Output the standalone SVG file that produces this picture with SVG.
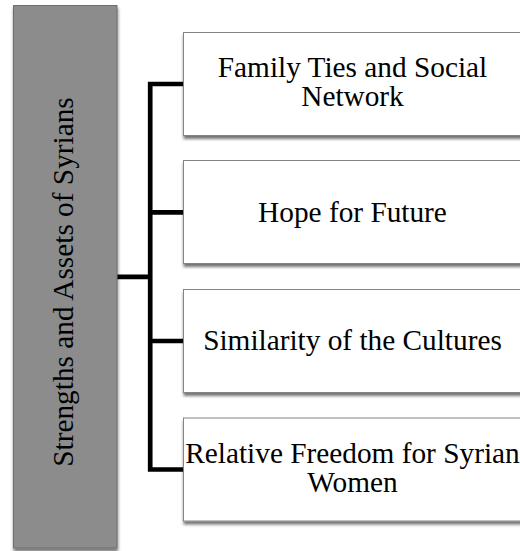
<svg xmlns="http://www.w3.org/2000/svg" width="520" height="551" viewBox="0 0 520 551">
<defs>
<filter id="sh" x="-10%" y="-10%" width="120%" height="130%">
<feDropShadow dx="0.5" dy="3" stdDeviation="1.5" flood-color="#000" flood-opacity="0.55"/>
</filter>
<style>
.box{fill:#fff;stroke:#858585;stroke-width:1;filter:url(#sh)}
.root{fill:#8c8c8c;stroke:#6e6e6e;stroke-width:1;filter:url(#sh)}
.t{font-family:"Liberation Serif","Times New Roman",serif;font-size:29.3px;fill:#000;text-anchor:middle}
.c{fill:none;stroke:#000;stroke-width:4.7;stroke-linejoin:miter;stroke-linecap:butt}
</style>
</defs>
<rect width="520" height="551" fill="#fff"/>
<g id="connectors">
<path class="c" d="M183,84 H150.2 V469.5 H183"/>
<path class="c" d="M150.2,212.3 H183"/>
<path class="c" d="M150.2,341 H183"/>
<path class="c" d="M117,276.8 H150.2"/>
</g>
<g id="root">
<rect class="root" x="13.5" y="5.5" width="103.5" height="542.5"/>
<text class="t" transform="translate(73,282) rotate(-90)" x="0" y="0">Strengths and Assets of Syrians</text>
</g>
<g id="node1">
<rect class="box" x="183.5" y="32.5" width="339" height="103"/>
<text class="t" x="352.5" y="77">Family Ties and Social</text>
<text class="t" x="352.5" y="106">Network</text>
</g>
<g id="node2">
<rect class="box" x="183.5" y="160.5" width="339" height="103"/>
<text class="t" x="352.5" y="221.7">Hope for Future</text>
</g>
<g id="node3">
<rect class="box" x="183.5" y="289.5" width="339" height="103"/>
<text class="t" x="352.5" y="350">Similarity of the Cultures</text>
</g>
<g id="node4">
<rect class="box" x="183.5" y="418" width="339" height="103"/>
<text class="t" x="352.5" y="462.5">Relative Freedom for Syrian</text>
<text class="t" x="352.5" y="492">Women</text>
</g>
</svg>
